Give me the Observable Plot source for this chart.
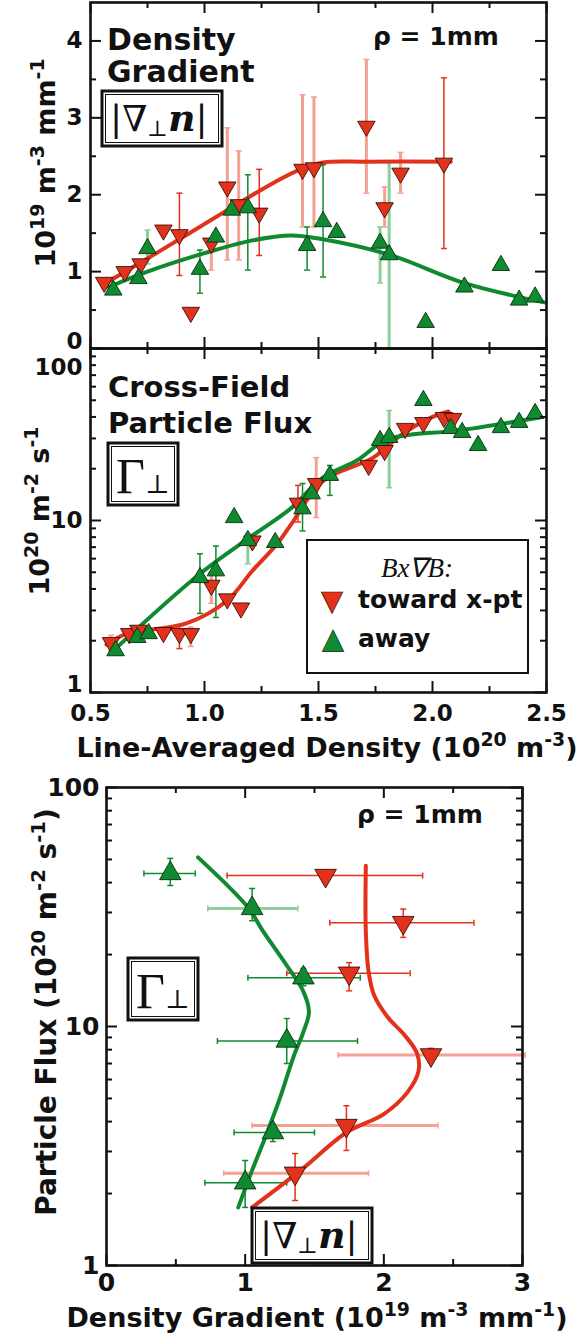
<!DOCTYPE html>
<html><head><meta charset="utf-8">
<script src="https://cdn.jsdelivr.net/npm/d3@7"></script>
<script src="https://cdn.jsdelivr.net/npm/@observablehq/plot@0.6"></script>
<style>
body{margin:0;background:#fff;}
#page{position:relative;width:581px;height:1339px;overflow:hidden;}
#page .panel{position:absolute;left:0;}
#ann{position:absolute;left:0;top:0;pointer-events:none;}
</style></head><body><div id="page"></div>
<script>
// ---------------- ticks ----------------
const densTicksMajor = [0.5, 1, 1.5, 2, 2.5];
const densTicksMinor = [0.75, 1.25, 1.75, 2.25];
const densTickLabels = ["0.5", "1.0", "1.5", "2.0", "2.5"];
const gradTicksMajor = [0, 1, 2, 3, 4];
const gradTicksMinor = [0.5, 1.5, 2.5, 3.5];
const gradTickLabels = ["0", "1", "2", "3", "4"];
const fluxTicksMajor = [1, 10, 100];
const fluxTicksMinor = [2, 3, 4, 5, 6, 7, 8, 9, 20, 30, 40, 50, 60, 70, 80, 90];
const fluxTickLabels = ["1", "10", "100"];
const grad3TicksMajor = [0, 1, 2, 3];
const grad3TicksMinor = [0.5, 1.5, 2.5];
const grad3TickLabels = ["0", "1", "2", "3"];

// ---------------- panel 1: density gradient vs line-averaged density ----------------
const gT_x = [0.56, 0.65, 0.72, 0.82, 0.89, 0.94, 1.03, 1.10, 1.15, 1.24, 1.43, 1.48, 1.71, 1.79, 1.86, 2.05];
const gT_y = [0.86, 1.00, 1.10, 1.54, 1.48, 0.47, 1.37, 2.10, 1.87, 1.76, 2.33, 2.35, 2.89, 1.83, 2.28, 2.41];
const gT_ex = [0.89, 1.03, 1.10, 1.15, 1.24, 1.43, 1.48, 1.71, 1.79, 1.86, 2.05];
const gT_elo = [0.95, 1.02, 1.15, 1.15, 1.21, 1.58, 1.58, 2.02, 1.58, 2.02, 1.30];
const gT_ehi = [2.02, 1.32, 2.87, 2.57, 2.33, 3.30, 3.27, 3.76, 2.10, 2.55, 3.52];
const gT_elight = [0, 1, 1, 1, 0, 1, 1, 1, 1, 1, 0];
const gT_fitx = [0.56, 0.8, 1.1, 1.3, 1.42, 1.52, 1.7, 2.08];
const gT_fity = [0.84, 1.26, 1.8, 2.15, 2.33, 2.42, 2.43, 2.43];

const gA_x = [0.60, 0.71, 0.75, 0.98, 1.05, 1.12, 1.19, 1.45, 1.52, 1.58, 1.77, 1.81, 1.97, 2.14, 2.30, 2.38, 2.45];
const gA_y = [0.76, 0.91, 1.30, 1.03, 1.45, 1.80, 1.83, 1.34, 1.65, 1.51, 1.37, 1.22, 0.34, 0.80, 1.08, 0.63, 0.67];
const gA_ex = [0.75, 0.98, 1.19, 1.45, 1.52, 1.77, 1.81];
const gA_elo = [1.10, 0.72, 1.02, 1.02, 0.93, 0.85, 0.0];
const gA_ehi = [1.54, 1.28, 2.26, 1.58, 2.39, 1.58, 2.42];
const gA_elight = [1, 0, 0, 0, 0, 1, 1];
const gA_fitx = [0.58, 0.75, 1.0, 1.2, 1.38, 1.5, 1.81, 2.14, 2.49];
const gA_fity = [0.80, 1.0, 1.24, 1.4, 1.47, 1.43, 1.22, 0.85, 0.60];

// ---------------- panel 2: particle flux vs line-averaged density ----------------
const fT_x = [0.59, 0.67, 0.71, 0.82, 0.89, 0.94, 1.03, 1.10, 1.16, 1.21, 1.41, 1.49, 1.72, 1.79, 1.88, 1.96, 2.05, 2.09];
const fT_y = [1.95, 2.2, 2.3, 2.23, 2.2, 2.2, 4.2, 3.5, 3.1, 7.6, 12.6, 16.4, 20.9, 25.5, 34.3, 37.1, 39.7, 39.2];
const fT_ex = [0.59, 0.89, 0.94, 1.03, 1.41, 1.49];
const fT_elo = [1.75, 1.8, 1.85, 3.3, 9.8, 10.4];
const fT_ehi = [2.15, 2.45, 2.4, 5.0, 16.0, 23.2];
const fT_elight = [1, 0, 1, 1, 0, 1];
const fT_fitx = [0.57, 0.66, 0.92, 1.1, 1.21, 1.32, 1.38, 1.52, 1.74, 1.87, 2.0, 2.07];
const fT_fity = [1.9, 2.2, 2.52, 3.43, 5.1, 7.35, 9.5, 17, 23.2, 32, 40.0, 43.0];

const fA_x = [0.61, 0.705, 0.755, 0.98, 1.05, 1.13, 1.19, 1.31, 1.43, 1.47, 1.55, 1.77, 1.81, 1.96, 2.08, 2.13, 2.20, 2.30, 2.38, 2.45];
const fA_y = [1.75, 2.09, 2.2, 4.66, 5.1, 10.4, 7.65, 7.45, 11.7, 14.3, 18.3, 29.2, 30.4, 49.9, 34.3, 32.5, 27.3, 34.7, 37.2, 41.9];
const fA_ex = [0.98, 1.05, 1.19, 1.43, 1.55, 1.81];
const fA_elo = [2.88, 2.73, 5.6, 8.7, 14.0, 15.5];
const fA_ehi = [6.4, 7.1, 8.4, 16.4, 20.9, 43.6];
const fA_elight = [0, 0, 1, 0, 0, 1];
const fA_fitx = [0.6, 0.98, 1.2, 1.38, 1.52, 1.67, 1.79, 1.9, 2.1, 2.47];
const fA_fity = [1.75, 4.9, 8.0, 11.8, 17.8, 22.4, 29.2, 31.5, 33.2, 39.7];

// ---------------- panel 3: particle flux vs density gradient ----------------
const bT_x = [1.58, 2.14, 1.75, 2.34, 1.73, 1.36];
const bT_y = [42.8, 27.2, 16.7, 7.6, 3.85, 2.43];
const bT_xlo = [0.87, 1.61, 1.30, 1.67, 1.05, 0.845];
const bT_xhi = [2.28, 2.65, 2.19, 3.02, 2.39, 1.89];
const bT_ylo = [41, 23.6, 14.1, 7.2, 3.03, 1.87];
const bT_yhi = [45, 31.0, 18.5, 8.1, 4.66, 2.94];
const bT_light = [0, 0, 0, 1, 1, 1];
const bT_fitx = [1.05, 1.4, 1.73, 2.0, 2.17, 2.25, 2.24, 2.15, 2.03, 1.93, 1.89, 1.87, 1.87];
const bT_fity = [1.75, 2.5, 3.6, 4.3, 5.3, 6.5, 7.7, 9.2, 10.9, 13.5, 17, 25, 47];

const bA_x = [0.46, 1.05, 1.42, 1.30, 1.20, 1.00];
const bA_y = [43.7, 31.2, 16.0, 8.7, 3.6, 2.22];
const bA_xlo = [0.27, 0.73, 1.02, 0.80, 0.92, 0.71];
const bA_xhi = [0.64, 1.38, 1.83, 1.81, 1.50, 1.30];
const bA_ylo = [38.9, 27.7, 14.8, 7.0, 3.3, 1.75];
const bA_yhi = [50.5, 37.8, 17.5, 10.8, 3.9, 2.75];
const bA_light = [0, 1, 0, 0, 0, 0];
const bA_fitx = [0.95, 1.05, 1.15, 1.25, 1.35, 1.42, 1.46, 1.42, 1.30, 1.13, 1.02, 0.66];
const bA_fity = [1.75, 2.5, 3.5, 5.0, 7.5, 9.5, 11.5, 14, 18, 25, 31.5, 51];

// ---------------- styling ----------------
const RED = "#e3321c", RED_L = "#f3a193", GREEN = "#0f8a30", GREEN_L = "#8ccf9a", INK = "#111";
const SANS = '"DejaVu Sans", sans-serif';

const pts = (xs, ys) => xs.map((x, i) => ({x, y: ys[i]}));
const errs = (xs, lo, hi, light, want) => xs.map((x, i) => ({x, lo: lo[i], hi: hi[i], light: light[i]})).filter(d => d.light === want);
const herrs = (xs, ys, lo, hi, light, want) => xs.map((x, i) => ({x, y: ys[i], lo: lo[i], hi: hi[i], light: light[i]})).filter(d => d.light === want);

const capH = {draw(ctx, size) { const r = Math.sqrt(size / Math.PI); ctx.moveTo(-r, 0); ctx.lineTo(r, 0); }};
const capV = {draw(ctx, size) { const r = Math.sqrt(size / Math.PI); ctx.moveTo(0, -r); ctx.lineTo(0, r); }};

function vErrMarks(data, color, light) {
  const sw = light ? 3 : 1.5;
  return [
    Plot.ruleX(data, {x: "x", y1: "lo", y2: "hi", stroke: color, strokeWidth: sw}),
    Plot.dot(data, {x: "x", y: "lo", symbol: capH, r: 3, stroke: color, strokeWidth: 1.5, fill: "none"}),
    Plot.dot(data, {x: "x", y: "hi", symbol: capH, r: 3, stroke: color, strokeWidth: 1.5, fill: "none"})
  ];
}
function hErrMarks(data, color, light) {
  const sw = light ? 3 : 1.5;
  return [
    Plot.ruleY(data, {y: "y", x1: "lo", x2: "hi", stroke: color, strokeWidth: sw}),
    Plot.dot(data, {x: "lo", y: "y", symbol: capV, r: 3, stroke: color, strokeWidth: 1.5, fill: "none"}),
    Plot.dot(data, {x: "hi", y: "y", symbol: capV, r: 3, stroke: color, strokeWidth: 1.5, fill: "none"})
  ];
}
function frameTicks(w, h, xMaj, xMin, yMaj, yMin) {
  const M = 11, m = 6, s = {stroke: INK, strokeWidth: 2};
  return [
    Plot.ruleX(xMaj, {...s, insetTop: h - M}), Plot.ruleX(xMaj, {...s, insetBottom: h - M}),
    Plot.ruleX(xMin, {...s, insetTop: h - m}), Plot.ruleX(xMin, {...s, insetBottom: h - m}),
    Plot.ruleY(yMaj, {...s, insetRight: w - M}), Plot.ruleY(yMaj, {...s, insetLeft: w - M}),
    Plot.ruleY(yMin, {...s, insetRight: w - m}), Plot.ruleY(yMin, {...s, insetLeft: w - m}),
    Plot.frame({stroke: INK, strokeWidth: 2.6})
  ];
}
const triDown = (data, r) => Plot.dot(data, {x: "x", y: "y", symbol: "triangle", rotate: 180, r, fill: RED, stroke: "#3a1008", strokeWidth: 0.9});
const triUp = (data, r) => Plot.dot(data, {x: "x", y: "y", symbol: "triangle", r, fill: GREEN, stroke: "#06300f", strokeWidth: 0.9});
const fit = (data, color) => Plot.line(data, {x: "x", y: "y", stroke: color, strokeWidth: 4, curve: "catmull-rom"});
const lab = (vals, labels) => (d) => labels[vals.indexOf(d)];

const page = document.getElementById("page");
function place(svg, top) { svg.classList.add("panel"); svg.style.top = top + "px"; page.appendChild(svg); }

// ---- panel 1 ----
{
  const mL = 90, mR = 35, mT = 2, mB = 2, H = 350;
  const p = Plot.plot({
    width: 581, height: H, marginLeft: mL, marginRight: mR, marginTop: mT, marginBottom: mB,
    x: {domain: [0.5, 2.5], axis: null}, y: {domain: [0, 4.5], axis: null},
    style: {fontFamily: SANS, fontWeight: "bold", fontSize: "23px", color: INK, background: "transparent", overflow: "visible"},
    marks: [
      ...vErrMarks(errs(gT_ex, gT_elo, gT_ehi, gT_elight, 1), RED_L, true),
      ...vErrMarks(errs(gA_ex, gA_elo, gA_ehi, gA_elight, 1), GREEN_L, true),
      ...vErrMarks(errs(gT_ex, gT_elo, gT_ehi, gT_elight, 0), RED, false),
      ...vErrMarks(errs(gA_ex, gA_elo, gA_ehi, gA_elight, 0), GREEN, false),
      fit(pts(gT_fitx, gT_fity), RED),
      fit(pts(gA_fitx, gA_fity), GREEN),
      triDown(pts(gT_x, gT_y), 6.5),
      triUp(pts(gA_x, gA_y), 6.5),
      ...frameTicks(581 - mL - mR, H - mT - mB, densTicksMajor, densTicksMinor, gradTicksMajor, gradTicksMinor),
      Plot.axisY({anchor: "left", ticks: gradTicksMajor.slice(1), tickSize: 0, tickPadding: 8, label: null, tickFormat: lab(gradTicksMajor, gradTickLabels)}),
      Plot.axisY({anchor: "left", ticks: gradTicksMajor.slice(0, 1), tickSize: 0, tickPadding: 8, label: null, dy: -7, tickFormat: lab(gradTicksMajor, gradTickLabels)})
    ]
  });
  place(p, 0);
}
// ---- panel 2 ----
{
  const mL = 90, mR = 35, mT = 8, mB = 40, H = 392;
  const p = Plot.plot({
    width: 581, height: H, marginLeft: mL, marginRight: mR, marginTop: mT, marginBottom: mB,
    x: {domain: [0.5, 2.5], axis: null}, y: {type: "log", domain: [1, 100], axis: null},
    style: {fontFamily: SANS, fontWeight: "bold", fontSize: "23px", color: INK, background: "transparent", overflow: "visible"},
    marks: [
      ...vErrMarks(errs(fT_ex, fT_elo, fT_ehi, fT_elight, 1), RED_L, true),
      ...vErrMarks(errs(fA_ex, fA_elo, fA_ehi, fA_elight, 1), GREEN_L, true),
      ...vErrMarks(errs(fT_ex, fT_elo, fT_ehi, fT_elight, 0), RED, false),
      ...vErrMarks(errs(fA_ex, fA_elo, fA_ehi, fA_elight, 0), GREEN, false),
      fit(pts(fT_fitx, fT_fity), RED),
      fit(pts(fA_fitx, fA_fity), GREEN),
      triDown(pts(fT_x, fT_y), 6.5),
      triUp(pts(fA_x, fA_y), 6.5),
      ...frameTicks(581 - mL - mR, H - mT - mB, densTicksMajor, densTicksMinor, fluxTicksMajor, fluxTicksMinor),
      Plot.axisY({anchor: "left", ticks: [fluxTicksMajor[1]], tickSize: 0, tickPadding: 8, label: null, tickFormat: lab(fluxTicksMajor, fluxTickLabels)}),
      Plot.axisY({anchor: "left", ticks: [fluxTicksMajor[2]], tickSize: 0, tickPadding: 8, label: null, dy: 19, tickFormat: lab(fluxTicksMajor, fluxTickLabels)}),
      Plot.axisY({anchor: "left", ticks: [fluxTicksMajor[0]], tickSize: 0, tickPadding: 8, label: null, dy: -8, tickFormat: lab(fluxTicksMajor, fluxTickLabels)}),
      Plot.axisX({anchor: "bottom", ticks: densTicksMajor, tickSize: 0, tickPadding: 12, label: null, tickFormat: lab(densTicksMajor, densTickLabels)})
    ]
  });
  place(p, 340);
}
// ---- panel 3 ----
{
  const mL = 106, mR = 59, mT = 17, mB = 40, H = 535;
  const p = Plot.plot({
    width: 581, height: H, marginLeft: mL, marginRight: mR, marginTop: mT, marginBottom: mB,
    x: {domain: [0, 3], axis: null}, y: {type: "log", domain: [1, 100], axis: null},
    style: {fontFamily: SANS, fontWeight: "bold", fontSize: "25px", color: INK, background: "transparent", overflow: "visible"},
    marks: [
      ...hErrMarks(herrs(bT_x, bT_y, bT_xlo, bT_xhi, bT_light, 1), RED_L, true),
      ...hErrMarks(herrs(bA_x, bA_y, bA_xlo, bA_xhi, bA_light, 1), GREEN_L, true),
      ...hErrMarks(herrs(bT_x, bT_y, bT_xlo, bT_xhi, bT_light, 0), RED, false),
      ...hErrMarks(herrs(bA_x, bA_y, bA_xlo, bA_xhi, bA_light, 0), GREEN, false),
      ...vErrMarks(pts(bT_x, bT_y).map((d, i) => ({x: d.x, lo: bT_ylo[i], hi: bT_yhi[i]})), RED, false),
      ...vErrMarks(pts(bA_x, bA_y).map((d, i) => ({x: d.x, lo: bA_ylo[i], hi: bA_yhi[i]})), GREEN, false),
      fit(pts(bT_fitx, bT_fity), RED),
      fit(pts(bA_fitx, bA_fity), GREEN),
      triDown(pts(bT_x, bT_y), 8),
      triUp(pts(bA_x, bA_y), 8),
      ...frameTicks(581 - mL - mR, H - mT - mB, grad3TicksMajor, grad3TicksMinor, fluxTicksMajor, fluxTicksMinor),
      ...fluxTicksMajor.map(t => Plot.axisY({anchor: "left", ticks: [t], tickSize: 0, tickPadding: 7, label: null, tickFormat: lab(fluxTicksMajor, fluxTickLabels)})),
      Plot.axisX({anchor: "bottom", ticks: grad3TicksMajor, tickSize: 0, tickPadding: 8, label: null, tickFormat: lab(grad3TicksMajor, grad3TickLabels)})
    ]
  });
  place(p, 770);
}

// ---------------- annotations, titles, legend ----------------
const sup = (t) => `<tspan baseline-shift="super" font-size="70%">${t}</tspan>`;
const boxNabla = (x, y) => `
  <rect x="${x}" y="${y}" width="120" height="55" fill="#fff" stroke="${INK}" stroke-width="3"/>
  <rect x="${x+3.5}" y="${y+3.5}" width="113" height="48" fill="none" stroke="${INK}" stroke-width="1"/>
  <text x="${x+8}" y="${y+40}" font-family="'DejaVu Serif', serif" font-weight="normal" font-size="36">|∇<tspan font-size="22" dy="5">⊥</tspan><tspan dy="-5" font-weight="bold" font-style="italic" font-size="38">n</tspan>|</text>`;
const boxGamma = (x, y) => `
  <rect x="${x}" y="${y}" width="70" height="62" fill="#fff" stroke="${INK}" stroke-width="3"/>
  <rect x="${x+3.5}" y="${y+3.5}" width="63" height="55" fill="none" stroke="${INK}" stroke-width="1"/>
  <text x="${x+8}" y="${y+50}" font-family="'Liberation Serif', serif" font-weight="normal" font-size="50">Γ<tspan font-family="'DejaVu Serif', serif" font-size="26">⊥</tspan></text>`;

const ann = `
<svg id="ann" width="581" height="1339" xmlns="http://www.w3.org/2000/svg" font-family='${SANS}' font-weight="bold" fill="${INK}">
  <text x="107" y="50" font-size="30">Density</text>
  <text x="107" y="82" font-size="30">Gradient</text>
  ${boxNabla(102, 91)}
  <text x="373" y="45" font-size="25">ρ = 1mm</text>
  <text transform="translate(55,163) rotate(-90)" text-anchor="middle" font-size="27">10${sup("19")} m${sup("-3")} mm${sup("-1")}</text>

  <text x="108" y="397" font-size="29">Cross-Field</text>
  <text x="108" y="433" font-size="29">Particle Flux</text>
  ${boxGamma(108, 443)}
  <text transform="translate(49,511) rotate(-90)" text-anchor="middle" font-size="27">10${sup("20")} m${sup("-2")} s${sup("-1")}</text>
  <text x="327" y="757" text-anchor="middle" font-size="27">Line-Averaged Density (10${sup("20")} m${sup("-3")})</text>

  <rect x="307" y="540" width="221" height="133" fill="#fff" stroke="${INK}" stroke-width="2"/>
  <text x="417" y="577" text-anchor="middle" font-family="'Liberation Serif', serif" font-style="italic" font-weight="normal" font-size="27">Bx∇B:</text>
  <text x="332" y="610" text-anchor="middle" font-size="28" fill="${RED}" stroke="#3a1008" stroke-width="0.7">▼</text>
  <text x="358" y="608" font-size="25">toward x-pt</text>
  <text x="333" y="648" text-anchor="middle" font-size="28" fill="${GREEN}" stroke="#06300f" stroke-width="0.7">▲</text>
  <text x="358" y="647" font-size="25">away</text>

  <text x="357" y="823" font-size="25">ρ = 1mm</text>
  ${boxGamma(128, 958)}
  ${boxNabla(252, 1208)}
  <text transform="translate(56,1012) rotate(-90)" text-anchor="middle" font-size="28">Particle Flux (10${sup("20")} m${sup("-2")} s${sup("-1")})</text>
  <text x="317" y="1327" text-anchor="middle" font-size="27">Density Gradient (10${sup("19")} m${sup("-3")} mm${sup("-1")})</text>
</svg>`;
page.insertAdjacentHTML("beforeend", ann);
</script></body></html>
